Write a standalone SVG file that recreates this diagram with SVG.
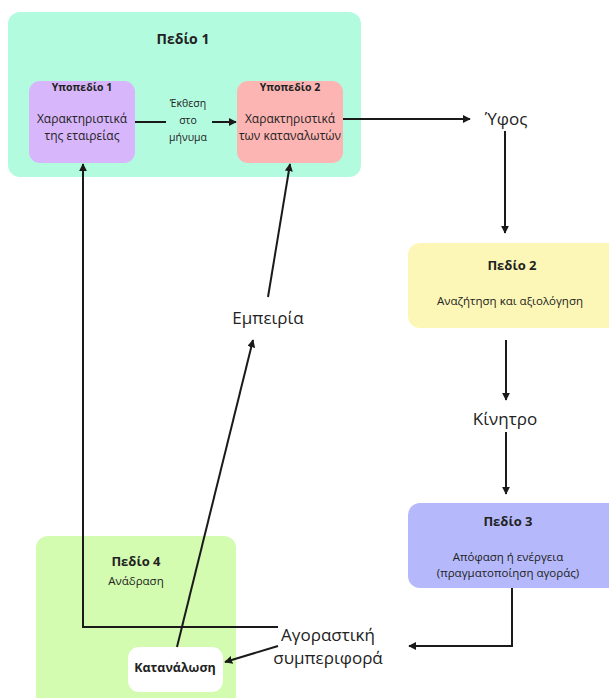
<svg xmlns="http://www.w3.org/2000/svg" width="609" height="698" viewBox="0 0 609 698">
<style>
text{font-family:"Open Sans","Noto Sans",sans-serif;fill:#222;text-anchor:middle;dominant-baseline:middle}
.b{font-weight:bold}
.big{font-size:17px}
.sm{font-size:11.5px}
.c{fill:none;stroke:#1a1a1a;stroke-width:2}
</style>
<defs>
<marker id="ah" viewBox="0 0 10 10" refX="9" refY="5" markerWidth="4" markerHeight="4" orient="auto-start-reverse">
<path d="M0,0 L10,5 L0,10 z" fill="#1a1a1a"/>
</marker>
</defs>
<rect width="609" height="698" fill="#fff"/>
<g id="pedio1">
<rect x="8" y="12" width="353" height="165" rx="12" fill="#b3fbdf"/>
<text x="183" y="40" class="b" font-size="14">Πεδίο 1</text>
</g>
<g id="ypopedio1">
<rect x="29" y="81" width="106" height="82" rx="11" fill="#d8b6fb"/>
<text x="82" y="88" class="b" font-size="10.5">Υποπεδίο 1</text>
<text x="82" y="120" font-size="12">Χαρακτηριστικά</text>
<text x="82" y="137" font-size="12">της εταιρείας</text>
</g>
<g id="ypopedio2">
<rect x="237" y="81" width="106" height="82" rx="11" fill="#fdb5b3"/>
<text x="290" y="88" class="b" font-size="10.5">Υποπεδίο 2</text>
<text x="290" y="120" font-size="12">Χαρακτηριστικά</text>
<text x="290" y="137" font-size="12">των καταναλωτών</text>
</g>
<g id="ekthesi">
<text x="188" y="104" font-size="10.5">Έκθεση</text>
<text x="188" y="121" font-size="10.5">στο</text>
<text x="188" y="138" font-size="10.5">μήνυμα</text>
</g>
<g id="yfos"><text x="506" y="120" class="big">Ύφος</text></g>
<g id="pedio2">
<rect x="408" y="243" width="215" height="85" rx="12" fill="#fcf7b6"/>
<text x="512" y="267" class="b" font-size="13">Πεδίο 2</text>
<text x="510" y="302" class="sm">Αναζήτηση και αξιολόγηση</text>
</g>
<g id="kinitro"><text x="505" y="420" class="big">Κίνητρο</text></g>
<g id="pedio3">
<rect x="408" y="503" width="215" height="85" rx="12" fill="#b5b9fb"/>
<text x="508" y="523" class="b" font-size="13">Πεδίο 3</text>
<text x="508" y="558" class="sm">Απόφαση ή ενέργεια</text>
<text x="508" y="574" class="sm">(πραγματοποίηση αγοράς)</text>
</g>
<g id="empeiria"><text x="268" y="319" class="big">Εμπειρία</text></g>
<g id="pedio4">
<rect x="36" y="536" width="200" height="175" rx="12" fill="#d3fcb0"/>
<text x="136" y="563" class="b" font-size="13">Πεδίο 4</text>
<text x="136" y="582" font-size="11.5">Ανάδραση</text>
</g>
<g id="katanalosi">
<rect x="128" y="647" width="95" height="45" rx="11" fill="#fff"/>
<text x="175" y="669" class="b" font-size="12.5">Κατανάλωση</text>
</g>
<g id="agorastiki">
<text x="328" y="636" class="big">Αγοραστική</text>
<text x="328" y="659" class="big">συμπεριφορά</text>
</g>
<g id="connectors">
<line class="c" x1="135" y1="122" x2="166" y2="122"/>
<line class="c" x1="212" y1="122" x2="236" y2="122" marker-end="url(#ah)"/>
<line class="c" x1="343" y1="119" x2="470" y2="119" marker-end="url(#ah)" stroke-width="1.8"/>
<line class="c" x1="505" y1="131" x2="505" y2="233" marker-end="url(#ah)"/>
<line class="c" x1="506" y1="340" x2="506" y2="400" marker-end="url(#ah)"/>
<line class="c" x1="506" y1="432" x2="506" y2="494" marker-end="url(#ah)"/>
<polyline class="c" points="512,588 512,646 409,646" marker-end="url(#ah)"/>
<polyline class="c" points="278,627 83,627 83,164" marker-end="url(#ah)"/>
<line class="c" x1="177" y1="647" x2="253" y2="340" marker-end="url(#ah)"/>
<line class="c" x1="268" y1="297" x2="290" y2="164" marker-end="url(#ah)"/>
<line class="c" x1="278" y1="646" x2="225" y2="662" marker-end="url(#ah)"/>
</g>
</svg>
